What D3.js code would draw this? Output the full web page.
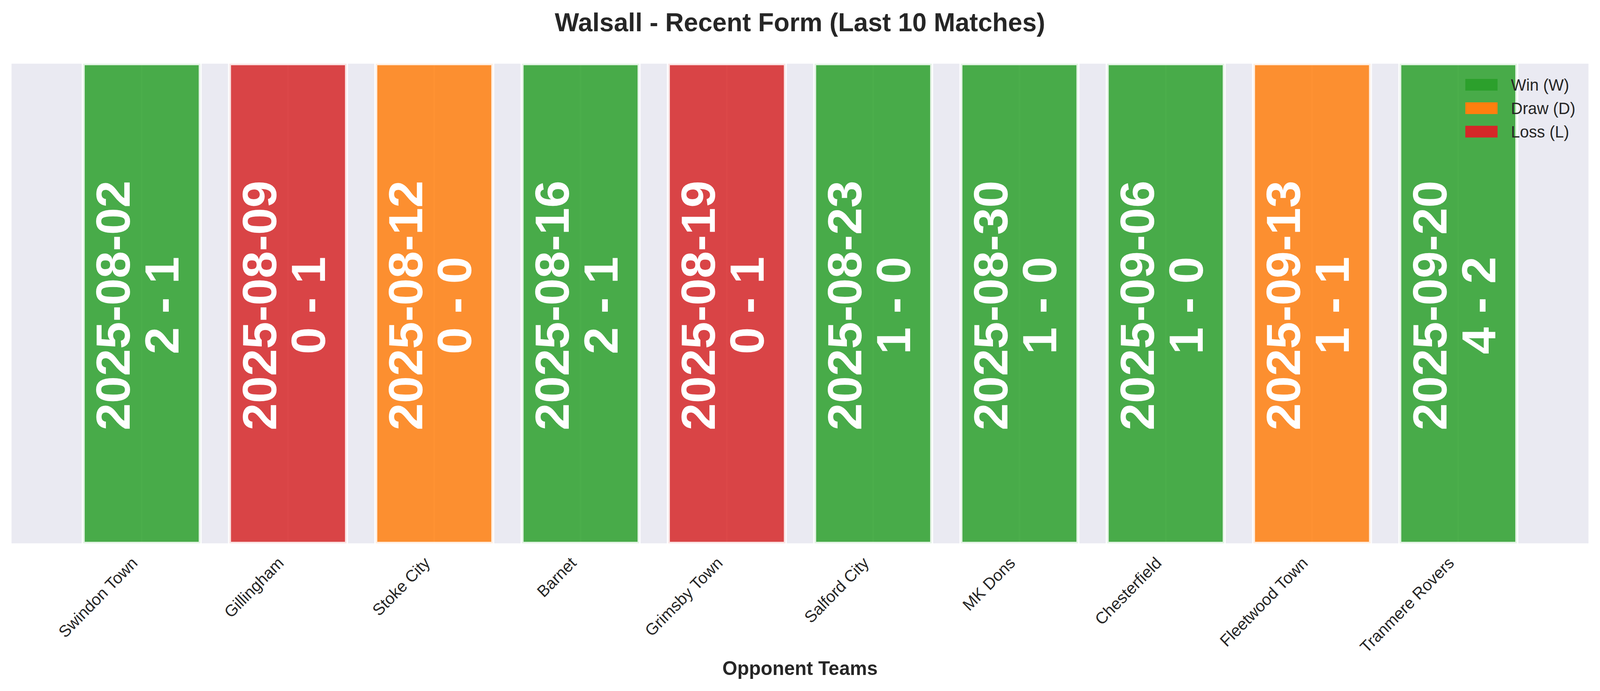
<!DOCTYPE html>
<html>
<head>
<meta charset="utf-8">
<script src="https://cdn.jsdelivr.net/npm/d3@7/dist/d3.min.js"></script>
<style>
  html, body { margin: 0; padding: 0; background: #ffffff; width: 100%; height: 100%; overflow: hidden; }
  svg { display: block; width: 100vw; height: 100vh; }
</style>
</head>
<body>
<svg id="chart" viewBox="0 0 4170 1769" preserveAspectRatio="none"></svg>
<script>
// ---- data ----
const teams = ["Swindon Town", "Gillingham", "Stoke City", "Barnet", "Grimsby Town",
               "Salford City", "MK Dons", "Chesterfield", "Fleetwood Town", "Tranmere Rovers"];
const dates = ["2025-08-02", "2025-08-09", "2025-08-12", "2025-08-16", "2025-08-19",
               "2025-08-23", "2025-08-30", "2025-09-06", "2025-09-13", "2025-09-20"];
const scores = ["2 - 1", "0 - 1", "0 - 0", "2 - 1", "0 - 1",
                "1 - 0", "1 - 0", "1 - 0", "1 - 1", "4 - 2"];
const results = ["W", "L", "D", "W", "L", "W", "W", "W", "D", "W"];
const barValues = [1, 1, 1, 1, 1, 1, 1, 1, 1, 1];
const legendKeys = ["W", "D", "L"];
const legendLabels = ["Win (W)", "Draw (D)", "Loss (L)"];
const resultColors = { W: "#2ca02c", D: "#ff7f0e", L: "#d62728" };

// ---- layout ----
const W = 4170, H = 1769;
const plot = { left: 30, right: 4140, top: 163, bottom: 1391 };
const font = "'Liberation Sans', Arial, Helvetica, sans-serif";
const textColor = "#262626";
const barWidth = 0.8;

const svg = d3.select("#chart");

const x = d3.scaleLinear()
  .domain([-0.4 - 0.049 * 10, 9.4 + 0.049 * 10])
  .range([plot.left, plot.right]);
const y = d3.scaleLinear().domain([0, 1]).range([plot.bottom, plot.top]);

// clip
svg.append("defs").append("clipPath").attr("id", "plotclip")
  .append("rect")
  .attr("x", plot.left).attr("y", plot.top)
  .attr("width", plot.right - plot.left).attr("height", plot.bottom - plot.top);

// axes background
svg.append("rect")
  .attr("x", plot.left).attr("y", plot.top)
  .attr("width", plot.right - plot.left).attr("height", plot.bottom - plot.top)
  .attr("fill", "#eaeaf2");

const idx = d3.range(teams.length);

// vertical grid lines
const gridG = svg.append("g").attr("clip-path", "url(#plotclip)");
gridG.selectAll("line").data(idx).join("line")
  .attr("x1", d => x(d)).attr("x2", d => x(d))
  .attr("y1", plot.top).attr("y2", plot.bottom)
  .attr("stroke", "#ffffff").attr("stroke-width", 4);

// bars
const barG = svg.append("g").attr("clip-path", "url(#plotclip)");
barG.selectAll("rect").data(idx).join("rect")
  .attr("x", d => x(d - barWidth / 2))
  .attr("width", d => x(d + barWidth / 2) - x(d - barWidth / 2))
  .attr("y", d => y(barValues[d]))
  .attr("height", d => y(0) - y(barValues[d]))
  .attr("fill", d => resultColors[results[d]])
  .attr("fill-opacity", 0.85)
  .attr("stroke", "#ffffff")
  .attr("stroke-opacity", 0.85)
  .attr("stroke-width", 8);

// in-bar labels
const labelG = svg.append("g")
  .attr("font-family", font).attr("font-weight", "bold")
  .attr("font-size", 125).attr("fill", "#ffffff").attr("text-anchor", "middle");
const yc = y(0.5) + 5;
labelG.selectAll("text.date").data(idx).join("text")
  .attr("class", "date")
  .attr("transform", d => `translate(${x(d) - 31},${yc}) rotate(-90)`)
  .text(d => dates[d]);
labelG.selectAll("text.score").data(idx).join("text")
  .attr("class", "score")
  .attr("transform", d => `translate(${x(d) + 96},${yc}) rotate(-90)`)
  .text(d => scores[d]);

// x axis
const xAxis = d3.axisBottom(x)
  .tickValues(idx)
  .tickFormat(d => teams[d])
  .tickSize(0)
  .tickSizeOuter(0);
const axG = svg.append("g")
  .attr("transform", `translate(0,${plot.bottom})`)
  .call(xAxis);
axG.select(".domain").remove();
axG.selectAll(".tick text")
  .attr("x", 0).attr("y", 0).attr("dy", 0)
  .attr("text-anchor", "end")
  .attr("transform", "translate(-9,53) rotate(-45)")
  .attr("font-family", font)
  .attr("font-size", 42)
  .attr("fill", textColor);

// title
svg.append("text")
  .attr("x", W / 2).attr("y", 80)
  .attr("text-anchor", "middle")
  .attr("font-family", font).attr("font-weight", "bold")
  .attr("font-size", 67).attr("fill", textColor)
  .text("Walsall - Recent Form (Last 10 Matches)");

// x label
svg.append("text")
  .attr("x", (plot.left + plot.right) / 2).attr("y", 1728)
  .attr("text-anchor", "middle")
  .attr("font-family", font).attr("font-weight", "bold")
  .attr("font-size", 50).attr("fill", textColor)
  .text("Opponent Teams");

// legend
const legG = svg.append("g").attr("transform", "translate(3819,202)");
const leg = legG.selectAll("g").data(legendKeys).join("g")
  .attr("transform", (d, i) => `translate(0,${i * 60})`);
leg.append("rect")
  .attr("x", 0).attr("y", 0).attr("width", 84).attr("height", 30)
  .attr("fill", d => resultColors[d]);
leg.append("text")
  .attr("x", 119).attr("y", 30)
  .attr("font-family", font).attr("font-size", 42).attr("fill", textColor)
  .text((d, i) => legendLabels[i]);
</script>
</body>
</html>
